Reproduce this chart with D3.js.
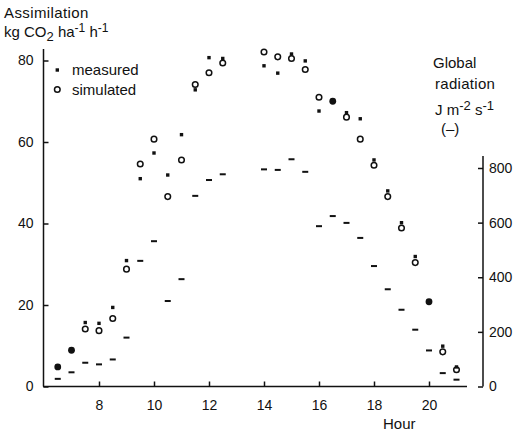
<!DOCTYPE html>
<html>
<head>
<meta charset="utf-8">
<script src="https://cdn.jsdelivr.net/npm/d3@7"></script>
<style>
  html, body { margin: 0; padding: 0; background: #fff; }
  svg text { font-family: "Liberation Sans", Arial, sans-serif; fill: #111; }
</style>
</head>
<body>
<svg id="chart" width="514" height="436"></svg>
<script>
// ---- Data ----
const hours = [6.5, 7, 7.5, 8, 8.5, 9, 9.5, 10, 10.5, 11, 11.5, 12, 12.5,
               14, 14.5, 15, 15.5, 16, 16.5, 17, 17.5, 18, 18.5, 19, 19.5, 20, 20.5, 21];
const measured = [4.8, 8.9, 15.7, 15.5, 19.4, 30.9, 51.0, 57.3, 51.9, 61.8, 72.8, 80.7, 80.5,
                  78.7, 76.9, 81.6, 79.9, 67.6, 70.0, 67.2, 65.7, 55.6, 48.0, 40.2, 31.9, 20.8, 9.9, 4.8];
const simulated = [4.8, 8.9, 14.1, 13.7, 16.7, 28.8, 54.6, 60.7, 46.6, 55.6, 74.1, 77.0, 79.4,
                   82.1, 80.9, 80.5, 77.8, 71.0, 70.0, 66.1, 60.7, 54.3, 46.6, 38.9, 30.4, 20.8, 8.5, 4.1];
const radiation = [28, 52, 87, 81, 99, 179, 460, 532, 313, 393, 698, 756, 777,
                   795, 793, 832, 786, 587, 624, 599, 544, 441, 356, 281, 208, 132, 49, 25];
const xTicks = [8, 10, 12, 14, 16, 18, 20];
const yTicks = [0, 20, 40, 60, 80];
const rTicks = [0, 200, 400, 600, 800];

// ---- Scales ----
const svg = d3.select("#chart");
const x = d3.scaleLinear().domain([8, 20]).range([99, 429]);
const y = d3.scaleLinear().domain([0, 80]).range([386.5, 60.5]);
const yr = d3.scaleLinear().domain([0, 800]).range([386.5, 168]);

const ink = "#111";
const fs = 14;   // tick labels
const ft = 15;   // titles and legend

// ---- Axes ----
svg.append("line").attr("x1", 43).attr("x2", 467).attr("y1", y(0)).attr("y2", y(0))
  .attr("stroke", ink).attr("stroke-width", 1.5);
const xAxis = d3.axisBottom(x).tickValues(xTicks).tickSize(-5).tickPadding(10).tickFormat(d3.format("d"));
const gx = svg.append("g").attr("transform", `translate(0,${y(0)})`).call(xAxis);
gx.select(".domain").remove();
gx.selectAll(".tick line").attr("stroke", ink).attr("stroke-width", 1.5);
gx.selectAll(".tick text").attr("font-size", fs).attr("font-family", "Liberation Sans, Arial, sans-serif")
  .attr("fill", ink).attr("dy", "0.95em");

svg.append("line").attr("x1", 43.5).attr("x2", 43.5).attr("y1", 49).attr("y2", y(0))
  .attr("stroke", ink).attr("stroke-width", 1.5);
const yAxis = d3.axisLeft(y).tickValues(yTicks).tickSize(-5).tickPadding(10).tickFormat(d3.format("d"));
const gy = svg.append("g").attr("transform", "translate(43.5,0)").call(yAxis);
gy.select(".domain").remove();
gy.selectAll(".tick line").attr("stroke", ink).attr("stroke-width", 1.5);
gy.selectAll(".tick text").attr("font-size", fs).attr("font-family", "Liberation Sans, Arial, sans-serif")
  .attr("fill", ink);

svg.append("line").attr("x1", 483).attr("x2", 483).attr("y1", 156).attr("y2", y(0))
  .attr("stroke", ink).attr("stroke-width", 1.5);
const rAxis = d3.axisRight(yr).tickValues(rTicks).tickSize(-5).tickPadding(6).tickFormat(d3.format("d"));
const gr = svg.append("g").attr("transform", "translate(483,0)").call(rAxis);
gr.select(".domain").remove();
gr.selectAll(".tick line").attr("stroke", ink).attr("stroke-width", 1.5);
gr.selectAll(".tick text").attr("font-size", fs).attr("font-family", "Liberation Sans, Arial, sans-serif")
  .attr("fill", ink).attr("x", 6);

// ---- Marks ----
const rows = hours.map((h, i) => ({ h, m: measured[i], s: simulated[i], r: radiation[i] }));

svg.append("g").selectAll("rect").data(rows).join("rect")
  .attr("x", d => x(d.h) - 3).attr("y", d => yr(d.r) - 1)
  .attr("width", 6).attr("height", 2).attr("fill", ink);

const same = d => Math.abs(d.m - d.s) < 0.05;

svg.append("g").selectAll("rect").data(rows.filter(d => !same(d))).join("rect")
  .attr("x", d => x(d.h) - 1.7).attr("y", d => y(d.m) - 1.7)
  .attr("width", 3.4).attr("height", 3.4).attr("fill", ink);

svg.append("g").selectAll("circle").data(rows.filter(d => !same(d))).join("circle")
  .attr("cx", d => x(d.h)).attr("cy", d => y(d.s)).attr("r", 2.8)
  .attr("fill", "none").attr("stroke", ink).attr("stroke-width", 1.5);

svg.append("g").selectAll("circle").data(rows.filter(same)).join("circle")
  .attr("cx", d => x(d.h)).attr("cy", d => y(d.s)).attr("r", 3.4).attr("fill", ink);

// ---- Legend ----
svg.append("rect").attr("x", 55.6).attr("y", 68.3).attr("width", 3.4).attr("height", 3.4).attr("fill", ink);
svg.append("text").attr("x", 72).attr("y", 74.5).attr("font-size", ft).text("measured");
svg.append("circle").attr("cx", 57.3).attr("cy", 89.5).attr("r", 2.8)
  .attr("fill", "none").attr("stroke", ink).attr("stroke-width", 1.5);
svg.append("text").attr("x", 72).attr("y", 94.5).attr("font-size", ft).text("simulated");

// ---- Titles ----
svg.append("text").attr("x", 4).attr("y", 18).attr("font-size", ft).attr("letter-spacing", 0.4).text("Assimilation");
const t2 = svg.append("text").attr("x", 4).attr("y", 37).attr("font-size", ft);
t2.append("tspan").text("kg CO");
t2.append("tspan").attr("dy", 4).attr("font-size", 13).text("2");
t2.append("tspan").attr("dy", -4).text(" ha");
t2.append("tspan").attr("dy", -5).attr("font-size", 12).text("-1");
t2.append("tspan").attr("dy", 5).text(" h");
t2.append("tspan").attr("dy", -5).attr("font-size", 12).text("-1");

svg.append("text").attr("x", 433).attr("y", 68).attr("font-size", ft).text("Global");
svg.append("text").attr("x", 435).attr("y", 89).attr("font-size", ft).attr("letter-spacing", 0.3).text("radiation");
const t3 = svg.append("text").attr("x", 435).attr("y", 115).attr("font-size", ft);
t3.append("tspan").text("J m");
t3.append("tspan").attr("dy", -5).attr("font-size", 13).text("-2");
t3.append("tspan").attr("dy", 5).text(" s");
t3.append("tspan").attr("dy", -5).attr("font-size", 13).text("-1");
svg.append("text").attr("x", 441).attr("y", 134).attr("font-size", ft).text("(–)");

svg.append("text").attr("x", 383).attr("y", 429).attr("font-size", ft).text("Hour");
</script>
</body>
</html>
